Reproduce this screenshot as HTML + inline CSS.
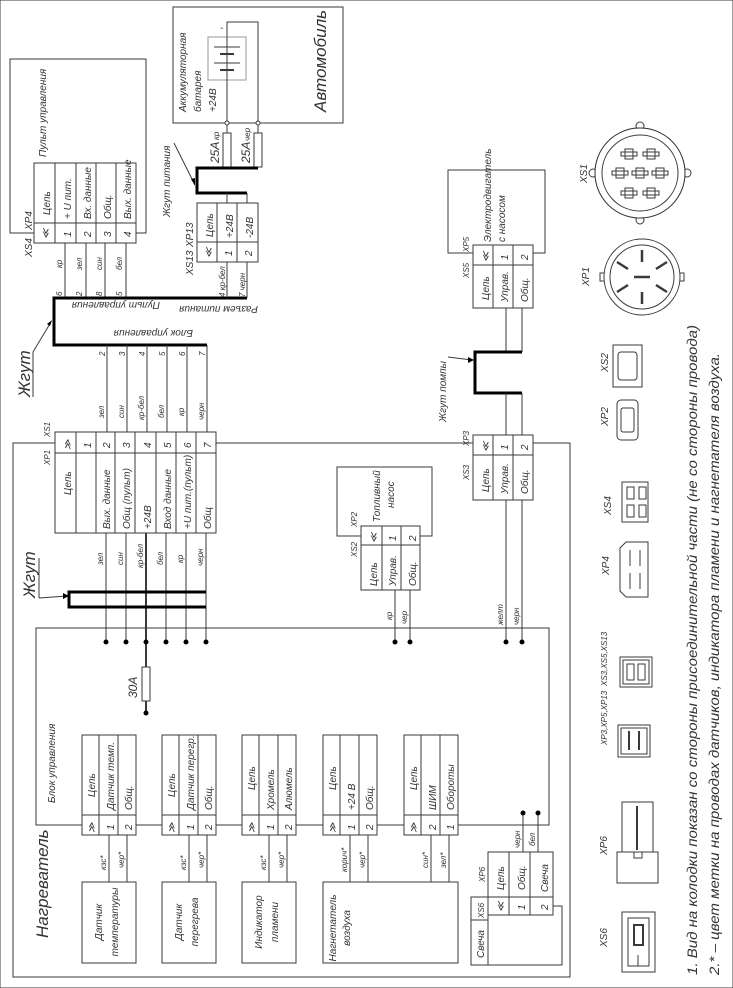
<!DOCTYPE html>
<html><head><meta charset="utf-8"><style>
html,body{margin:0;padding:0;background:#fff}
svg{display:block}
text{font-family:"Liberation Sans Narrow","Liberation Sans",sans-serif;font-style:italic;font-size:10px;fill:#333}
.s{font-size:8px}
.b{font-size:17px}
.m{font-size:12px}
line,rect,polyline,path,circle{stroke:#3a3a3a;stroke-width:1;fill:none}
.w{fill:#fff}
.k{stroke:#000;stroke-width:3}
.d{fill:#000;stroke:none}
</style></head><body>
<svg width="733" height="988" viewBox="0 0 733 988" xmlns="http://www.w3.org/2000/svg">
<rect x="0" y="0" width="733" height="988" fill="#fff" stroke="none"/>

<!-- Пульт управления -->
<polyline points="34,233 10,233 10,59 146,59 146,233 136,233"/>
<text transform="translate(46,157) rotate(-90)">Пульт управления</text>
<rect class="w" x="34" y="163" width="102" height="80"/>
<line x1="34" y1="223" x2="136" y2="223"/>
<line x1="55" y1="163" x2="55" y2="243"/><line x1="76" y1="163" x2="76" y2="243"/>
<line x1="96" y1="163" x2="96" y2="243"/><line x1="116" y1="163" x2="116" y2="243"/>
<text transform="translate(50,215) rotate(-90)">Цепь</text>
<text transform="translate(49,239) rotate(-90)">≪</text>
<text transform="translate(71,219) rotate(-90)">+ U пит.</text><text transform="translate(71,237) rotate(-90)">1</text>
<text transform="translate(91,219) rotate(-90)">Вх. данные</text><text transform="translate(91,237) rotate(-90)">2</text>
<text transform="translate(111,219) rotate(-90)">Общ.</text><text transform="translate(111,237) rotate(-90)">3</text>
<text transform="translate(131,219) rotate(-90)">Вых. данные</text><text transform="translate(131,237) rotate(-90)">4</text>
<text transform="translate(32,257) rotate(-90)">XS4</text><text transform="translate(32,230) rotate(-90)">XP4</text>
<line x1="65" y1="243" x2="65" y2="298"/><line x1="86" y1="243" x2="86" y2="298"/>
<line x1="105" y1="243" x2="105" y2="298"/><line x1="126" y1="243" x2="126" y2="298"/>
<text class="s" transform="translate(62,268) rotate(-90)">кр</text>
<text class="s" transform="translate(82,270) rotate(-90)">зел</text>
<text class="s" transform="translate(102,270) rotate(-90)">син</text>
<text class="s" transform="translate(122,270) rotate(-90)">бел</text>
<text class="s" transform="translate(62,296) rotate(-90)">6</text><text class="s" transform="translate(82,296) rotate(-90)">2</text>
<text class="s" transform="translate(102,296) rotate(-90)">8</text><text class="s" transform="translate(122,296) rotate(-90)">5</text>

<!-- main harness top -->
<polyline class="k" points="247,298 54,298 54,345 207,345"/>
<text transform="translate(160,302) rotate(180)">Пульт управления</text>
<text transform="translate(258,306) rotate(180)">Разъем питания</text>
<text transform="translate(193,330) rotate(180)">Блок управления</text>
<text class="b" transform="translate(30,397) rotate(-90)">Жгут</text>
<line x1="33" y1="397" x2="33" y2="352"/><line x1="33" y1="352" x2="51" y2="322"/>
<path class="d" d="M52,320 L47,324 L50,326 Z"/>

<!-- Автомобиль -->
<rect x="173" y="7" width="170" height="116"/>
<text class="b" transform="translate(326,112) rotate(-90)">Автомобиль</text>
<text transform="translate(186,112) rotate(-90)">Аккумуляторная</text>
<text transform="translate(201,112) rotate(-90)">батарея</text>
<text transform="translate(216,112) rotate(-90)">+24В</text>
<rect x="208" y="37" width="38" height="43" style="stroke:#999"/>
<polyline points="227,123 227,22 258,22 258,123"/>
<line x1="214" y1="47" x2="240" y2="47" /><line x1="220" y1="54" x2="234" y2="54" style="stroke-width:2"/>
<line x1="214" y1="63" x2="240" y2="63" /><line x1="220" y1="70" x2="234" y2="70" style="stroke-width:2"/>
<text transform="translate(220,31)">-</text>
<circle class="w" cx="227" cy="123" r="2"/><circle class="w" cx="258" cy="123" r="2"/>
<line x1="227" y1="125" x2="227" y2="133"/><line x1="258" y1="125" x2="258" y2="133"/>
<rect x="223" y="133" width="8" height="34"/><rect x="254" y="133" width="8" height="34"/>
<text class="m" transform="translate(219,163) rotate(-90)">25А</text>
<text class="m" transform="translate(250,163) rotate(-90)">25А</text>
<text class="s" transform="translate(219,140) rotate(-90)">кр</text>
<text class="s" transform="translate(250,141) rotate(-90)">чер</text>
<polyline class="k" points="258,168 197,168 197,193 247,193"/>
<text transform="translate(170,217) rotate(-90)">Жгут питания</text>
<line x1="174" y1="143" x2="194" y2="183"/><path class="d" d="M195,186 L191,179 L195,178 Z"/>
<line x1="227" y1="193" x2="227" y2="203"/><line x1="247" y1="193" x2="247" y2="203"/>
<rect class="w" x="197" y="203" width="61" height="59"/>
<line x1="197" y1="242" x2="258" y2="242"/><line x1="217" y1="203" x2="217" y2="262"/><line x1="237" y1="203" x2="237" y2="262"/>
<text transform="translate(213,237) rotate(-90)">Цепь</text>
<text transform="translate(233,238) rotate(-90)">+24В</text>
<text transform="translate(253,238) rotate(-90)">-24В</text>
<text transform="translate(212,258) rotate(-90)">≪</text>
<text transform="translate(232,256) rotate(-90)">1</text><text transform="translate(252,256) rotate(-90)">2</text>
<text transform="translate(193,275) rotate(-90)">XS13</text><text transform="translate(193,247) rotate(-90)">XP13</text>
<line x1="227" y1="262" x2="227" y2="298"/><line x1="247" y1="262" x2="247" y2="298"/>
<text class="s" transform="translate(225,297) rotate(-90)">4 кр-бел</text>
<text class="s" transform="translate(245,297) rotate(-90)">7 черн</text>

<!-- wires harness -> XS1 -->
<line x1="107" y1="345" x2="107" y2="432"/><line x1="127" y1="345" x2="127" y2="432"/>
<line x1="147" y1="345" x2="147" y2="432"/><line x1="167" y1="345" x2="167" y2="432"/>
<line x1="187" y1="345" x2="187" y2="432"/><line x1="207" y1="345" x2="207" y2="432"/>
<text class="s" transform="translate(105,356) rotate(-90)">2</text><text class="s" transform="translate(125,356) rotate(-90)">3</text>
<text class="s" transform="translate(145,356) rotate(-90)">4</text><text class="s" transform="translate(165,356) rotate(-90)">5</text>
<text class="s" transform="translate(185,356) rotate(-90)">6</text><text class="s" transform="translate(205,356) rotate(-90)">7</text>
<text class="s" transform="translate(104,418) rotate(-90)">зел</text><text class="s" transform="translate(124,418) rotate(-90)">син</text>
<text class="s" transform="translate(144,420) rotate(-90)">кр-бел</text><text class="s" transform="translate(164,418) rotate(-90)">бел</text>
<text class="s" transform="translate(184,416) rotate(-90)">кр</text><text class="s" transform="translate(204,420) rotate(-90)">черн</text>

<!-- heater outer box -->
<polyline points="55,443 13,443 13,977 570,977 570,443 216,443"/>
<text class="b" transform="translate(48,938) rotate(-90)">Нагреватель</text>

<!-- XS1 table -->
<rect class="w" x="55" y="432" width="161" height="101"/>
<line x1="55" y1="453" x2="216" y2="453"/>
<line x1="76" y1="432" x2="76" y2="533"/><line x1="96" y1="432" x2="96" y2="533"/><line x1="115" y1="432" x2="115" y2="533"/>
<line x1="135" y1="432" x2="135" y2="533"/><line x1="156" y1="432" x2="156" y2="533"/><line x1="176" y1="432" x2="176" y2="533"/><line x1="196" y1="432" x2="196" y2="533"/>
<text transform="translate(71,450) rotate(-90)">≫</text>
<text transform="translate(91,448) rotate(-90)">1</text><text transform="translate(110,448) rotate(-90)">2</text>
<text transform="translate(130,448) rotate(-90)">3</text><text transform="translate(151,448) rotate(-90)">4</text>
<text transform="translate(171,448) rotate(-90)">5</text><text transform="translate(191,448) rotate(-90)">6</text><text transform="translate(211,448) rotate(-90)">7</text>
<text transform="translate(71,495) rotate(-90)">Цепь</text>
<text transform="translate(110,529) rotate(-90)">Вых. данные</text>
<text transform="translate(130,529) rotate(-90)">Общ (пульт)</text>
<text transform="translate(151,529) rotate(-90)">+24В</text>
<text transform="translate(171,529) rotate(-90)">Вход данные</text>
<text transform="translate(191,529) rotate(-90)">+U пит.(пульт)</text>
<text transform="translate(211,529) rotate(-90)">Общ</text>
<text class="s" transform="translate(50,465) rotate(-90)">XP1</text><text class="s" transform="translate(50,437) rotate(-90)">XS1</text>

<!-- wires XS1 -> inner box -->
<line x1="106" y1="533" x2="106" y2="642"/><line x1="126" y1="533" x2="126" y2="642"/>
<line x1="146" y1="533" x2="146" y2="713" style="stroke-width:2"/><line x1="166" y1="533" x2="166" y2="642"/>
<line x1="186" y1="533" x2="186" y2="642"/><line x1="206" y1="533" x2="206" y2="642"/>
<text class="s" transform="translate(103,565) rotate(-90)">зел</text><text class="s" transform="translate(123,565) rotate(-90)">син</text>
<text class="s" transform="translate(143,568) rotate(-90)">кр-бел</text><text class="s" transform="translate(163,565) rotate(-90)">бел</text>
<text class="s" transform="translate(183,563) rotate(-90)">кр</text><text class="s" transform="translate(203,566) rotate(-90)">черн</text>
<polyline class="k" points="206,592 69,592 69,607 206,607"/>
<text class="b" transform="translate(35,598) rotate(-90)">Жгут</text>
<line x1="39" y1="598" x2="39" y2="558"/><line x1="39" y1="598" x2="67" y2="596"/>
<path class="d" d="M69,596 L63,593 L63,599 Z"/>

<!-- inner box -->
<rect x="36" y="628" width="513" height="197"/>
<text transform="translate(55,803) rotate(-90)">Блок управления</text>
<circle class="d" cx="106" cy="642" r="2.5"/><circle class="d" cx="126" cy="642" r="2.5"/><circle class="d" cx="146" cy="642" r="2.5"/>
<circle class="d" cx="166" cy="642" r="2.5"/><circle class="d" cx="186" cy="642" r="2.5"/><circle class="d" cx="206" cy="642" r="2.5"/>
<rect class="w" x="142" y="667" width="8" height="34"/>
<circle class="d" cx="146" cy="713" r="2.5"/>
<text class="m" transform="translate(137,698) rotate(-90)">30А</text>

<!-- sensor tables -->
<g>
<rect class="w" x="82" y="735" width="54" height="100"/><line x1="82" y1="815" x2="136" y2="815"/><line x1="99" y1="735" x2="99" y2="835"/><line x1="118" y1="735" x2="118" y2="835"/>
<rect class="w" x="162" y="735" width="54" height="100"/><line x1="162" y1="815" x2="216" y2="815"/><line x1="179" y1="735" x2="179" y2="835"/><line x1="198" y1="735" x2="198" y2="835"/>
<rect class="w" x="242" y="735" width="54" height="100"/><line x1="242" y1="815" x2="296" y2="815"/><line x1="259" y1="735" x2="259" y2="835"/><line x1="278" y1="735" x2="278" y2="835"/>
<rect class="w" x="323" y="735" width="54" height="100"/><line x1="323" y1="815" x2="377" y2="815"/><line x1="340" y1="735" x2="340" y2="835"/><line x1="359" y1="735" x2="359" y2="835"/>
<rect class="w" x="404" y="735" width="54" height="100"/><line x1="404" y1="815" x2="458" y2="815"/><line x1="421" y1="735" x2="421" y2="835"/><line x1="440" y1="735" x2="440" y2="835"/>
</g>
<text transform="translate(95,797) rotate(-90)">Цепь</text><text transform="translate(114,810) rotate(-90)">Датчик темп.</text><text transform="translate(132,810) rotate(-90)">Общ.</text>
<text transform="translate(95,833) rotate(-90)">≫</text><text transform="translate(114,830) rotate(-90)">1</text><text transform="translate(132,830) rotate(-90)">2</text>
<text transform="translate(175,797) rotate(-90)">Цепь</text><text transform="translate(194,810) rotate(-90)">Датчик перегр.</text><text transform="translate(212,810) rotate(-90)">Общ.</text>
<text transform="translate(175,833) rotate(-90)">≫</text><text transform="translate(194,830) rotate(-90)">1</text><text transform="translate(212,830) rotate(-90)">2</text>
<text transform="translate(255,790) rotate(-90)">Цепь</text><text transform="translate(274,810) rotate(-90)">Хромель</text><text transform="translate(292,810) rotate(-90)">Алюмель</text>
<text transform="translate(255,833) rotate(-90)">≫</text><text transform="translate(274,830) rotate(-90)">1</text><text transform="translate(292,830) rotate(-90)">2</text>
<text transform="translate(336,790) rotate(-90)">Цепь</text><text transform="translate(355,810) rotate(-90)">+24 В</text><text transform="translate(373,810) rotate(-90)">Общ.</text>
<text transform="translate(336,833) rotate(-90)">≫</text><text transform="translate(355,830) rotate(-90)">1</text><text transform="translate(373,830) rotate(-90)">2</text>
<text transform="translate(417,790) rotate(-90)">Цепь</text><text transform="translate(436,810) rotate(-90)">ШИМ</text><text transform="translate(454,810) rotate(-90)">Обороты</text>
<text transform="translate(417,833) rotate(-90)">≫</text><text transform="translate(436,830) rotate(-90)">2</text><text transform="translate(454,830) rotate(-90)">1</text>

<!-- sensor wires -->
<line x1="109" y1="835" x2="109" y2="882"/><line x1="127" y1="835" x2="127" y2="882"/>
<line x1="189" y1="835" x2="189" y2="882"/><line x1="207" y1="835" x2="207" y2="882"/>
<line x1="269" y1="835" x2="269" y2="882"/><line x1="287" y1="835" x2="287" y2="882"/>
<line x1="350" y1="835" x2="350" y2="882"/><line x1="368" y1="835" x2="368" y2="882"/>
<line x1="431" y1="835" x2="431" y2="882"/><line x1="449" y1="835" x2="449" y2="882"/>
<text class="s" transform="translate(106,870) rotate(-90)">кзс*</text><text class="s" transform="translate(124,868) rotate(-90)">чер*</text>
<text class="s" transform="translate(186,870) rotate(-90)">кзс*</text><text class="s" transform="translate(204,868) rotate(-90)">чер*</text>
<text class="s" transform="translate(266,870) rotate(-90)">кзс*</text><text class="s" transform="translate(284,868) rotate(-90)">чер*</text>
<text class="s" transform="translate(347,872) rotate(-90)">корич*</text><text class="s" transform="translate(365,868) rotate(-90)">чер*</text>
<text class="s" transform="translate(428,868) rotate(-90)">син*</text><text class="s" transform="translate(446,868) rotate(-90)">зел*</text>

<!-- devices -->
<rect x="82" y="882" width="54" height="81"/><rect x="162" y="882" width="54" height="81"/>
<rect x="242" y="882" width="54" height="81"/><rect x="323" y="882" width="135" height="81"/>
<text text-anchor="middle" transform="translate(102,922) rotate(-90)">Датчик</text>
<text text-anchor="middle" transform="translate(118,922) rotate(-90)">температуры</text>
<text text-anchor="middle" transform="translate(182,922) rotate(-90)">Датчик</text>
<text text-anchor="middle" transform="translate(198,922) rotate(-90)">перегрева</text>
<text text-anchor="middle" transform="translate(262,922) rotate(-90)">Индикатор</text>
<text text-anchor="middle" transform="translate(278,922) rotate(-90)">пламени</text>
<text text-anchor="middle" transform="translate(336,928) rotate(-90)">Нагнетатель</text>
<text text-anchor="middle" transform="translate(350,928) rotate(-90)">воздуха</text>

<!-- XS6 / XP6 свеча -->
<line x1="523" y1="813" x2="523" y2="852"/><line x1="538" y1="813" x2="538" y2="852"/>
<circle class="d" cx="523" cy="813" r="2.5"/><circle class="d" cx="538" cy="813" r="2.5"/>
<text class="s" transform="translate(520,848) rotate(-90)">черн</text><text class="s" transform="translate(535,846) rotate(-90)">бел</text>
<rect class="w" x="488" y="852" width="65" height="63"/>
<line x1="488" y1="897" x2="553" y2="897"/><line x1="509" y1="852" x2="509" y2="915"/><line x1="530" y1="852" x2="530" y2="915"/>
<text transform="translate(504,890) rotate(-90)">Цепь</text><text transform="translate(525,890) rotate(-90)">Общ.</text><text transform="translate(548,892) rotate(-90)">Свеча</text>
<text transform="translate(504,912) rotate(-90)">≪</text><text transform="translate(525,910) rotate(-90)">1</text><text transform="translate(548,910) rotate(-90)">2</text>
<text class="s" transform="translate(485,882) rotate(-90)">XP6</text>
<rect x="471" y="897" width="17" height="68"/>
<line x1="471" y1="920" x2="488" y2="920"/>
<text class="s" transform="translate(484,918) rotate(-90)">XS6</text>
<text transform="translate(484,958) rotate(-90)">Свеча</text>
<polyline points="553,906 562,906 562,965 488,965"/>

<!-- Fuel pump -->
<rect x="337" y="467" width="95" height="69"/>
<text transform="translate(380,522) rotate(-90)">Топливный</text>
<text transform="translate(394,508) rotate(-90)">насос</text>
<rect class="w" x="361" y="526" width="59" height="64"/>
<line x1="361" y1="545" x2="420" y2="545"/><line x1="382" y1="526" x2="382" y2="590"/><line x1="401" y1="526" x2="401" y2="590"/>
<text transform="translate(377,543) rotate(-90)">≪</text><text transform="translate(396,541) rotate(-90)">1</text><text transform="translate(416,541) rotate(-90)">2</text>
<text transform="translate(377,586) rotate(-90)">Цепь</text><text transform="translate(396,586) rotate(-90)">Управ.</text><text transform="translate(416,586) rotate(-90)">Общ.</text>
<text class="s" transform="translate(357,557) rotate(-90)">XS2</text><text class="s" transform="translate(357,527) rotate(-90)">XP2</text>
<line x1="395" y1="590" x2="395" y2="642"/><line x1="410" y1="590" x2="410" y2="642"/>
<circle class="d" cx="395" cy="642" r="2.5"/><circle class="d" cx="410" cy="642" r="2.5"/>
<text class="s" transform="translate(392,620) rotate(-90)">кр</text><text class="s" transform="translate(407,624) rotate(-90)">чер</text>

<!-- Motor / pump harness -->
<rect x="448" y="170" width="97" height="83"/>
<text transform="translate(491,242) rotate(-90)">Электродвигатель</text>
<text transform="translate(505,242) rotate(-90)">с насосом</text>
<rect class="w" x="473" y="245" width="60" height="63"/>
<line x1="473" y1="265" x2="533" y2="265"/><line x1="493" y1="245" x2="493" y2="308"/><line x1="513" y1="245" x2="513" y2="308"/>
<text transform="translate(489,262) rotate(-90)">≪</text><text transform="translate(508,260) rotate(-90)">1</text><text transform="translate(528,260) rotate(-90)">2</text>
<text transform="translate(489,300) rotate(-90)">Цепь</text><text transform="translate(508,302) rotate(-90)">Управ.</text><text transform="translate(528,302) rotate(-90)">Общ.</text>
<text class="s" transform="translate(469,278) rotate(-90)">XS5</text><text class="s" transform="translate(469,252) rotate(-90)">XP5</text>
<line x1="506" y1="308" x2="506" y2="352"/><line x1="522" y1="308" x2="522" y2="352"/>
<polyline class="k" points="522,352 475,352 475,393 522,393"/>
<line x1="506" y1="393" x2="506" y2="435"/><line x1="522" y1="393" x2="522" y2="435"/>
<text transform="translate(446,422) rotate(-90)">Жгут помпы</text>
<line x1="448" y1="357" x2="472" y2="360"/><path class="d" d="M474,360 L468,357 L468,363 Z"/>
<rect class="w" x="473" y="435" width="60" height="65"/>
<line x1="473" y1="455" x2="533" y2="455"/><line x1="493" y1="435" x2="493" y2="500"/><line x1="513" y1="435" x2="513" y2="500"/>
<text transform="translate(489,452) rotate(-90)">≪</text><text transform="translate(508,450) rotate(-90)">1</text><text transform="translate(528,450) rotate(-90)">2</text>
<text transform="translate(489,492) rotate(-90)">Цепь</text><text transform="translate(508,494) rotate(-90)">Управ.</text><text transform="translate(528,494) rotate(-90)">Общ.</text>
<text class="s" transform="translate(469,480) rotate(-90)">XS3</text><text class="s" transform="translate(469,446) rotate(-90)">XP3</text>
<line x1="506" y1="500" x2="506" y2="642"/><line x1="522" y1="500" x2="522" y2="642"/>
<circle class="d" cx="506" cy="642" r="2.5"/><circle class="d" cx="522" cy="642" r="2.5"/>
<text class="s" transform="translate(503,625) rotate(-90)">желт</text><text class="s" transform="translate(519,625) rotate(-90)">черн</text>

<!-- Right connector views -->
<circle cx="640" cy="173" r="45"/><circle cx="640" cy="173" r="38"/>
<circle cx="640" cy="126" r="4"/><circle cx="640" cy="220" r="4"/><circle cx="593" cy="173" r="4"/><circle cx="687" cy="173" r="4"/>
<circle class="w" cx="640" cy="173" r="45"/><circle cx="640" cy="173" r="38"/>
<path d="M636,168h8v10h-8z M632,171h16v4h-16z"/>
<path d="M656,168h8v10h-8z M652,171h16v4h-16z"/>
<path d="M616,168h8v10h-8z M612,171h16v4h-16z"/>
<path d="M647,149h8v10h-8z M643,152h16v4h-16z"/>
<path d="M625,149h8v10h-8z M621,152h16v4h-16z"/>
<path d="M647,188h8v10h-8z M643,191h16v4h-16z"/>
<path d="M625,188h8v10h-8z M621,191h16v4h-16z"/>
<text transform="translate(587,183) rotate(-90)">XS1</text>
<rect x="600" y="273" width="6" height="8"/><rect x="678" y="273" width="6" height="8"/>
<circle class="w" cx="642" cy="277" r="38"/><circle cx="642" cy="277" r="32"/>
<line x1="642" y1="250" x2="642" y2="262" style="stroke-width:2.5"/><line x1="642" y1="292" x2="642" y2="304" style="stroke-width:2.5"/>
<line x1="617" y1="262" x2="628" y2="269" style="stroke-width:2.5"/><line x1="656" y1="285" x2="667" y2="292" style="stroke-width:2.5"/>
<line x1="617" y1="292" x2="628" y2="285" style="stroke-width:2.5"/><line x1="656" y1="269" x2="667" y2="262" style="stroke-width:2.5"/>
<line x1="634" y1="277" x2="650" y2="277" style="stroke-width:2.5"/>
<text transform="translate(589,286) rotate(-90)">XP1</text>
<rect x="613" y="345" width="29" height="42"/><rect x="618" y="352" width="19" height="28" rx="3"/>
<text transform="translate(608,372) rotate(-90)">XS2</text>
<rect x="617" y="400" width="21" height="40" rx="4"/><rect x="621" y="408" width="13" height="24" rx="2"/>
<text transform="translate(608,426) rotate(-90)">XP2</text>
<rect x="622" y="482" width="26" height="40"/>
<path d="M627,487h7v12h-7z M639,487h7v12h-7z M627,505h7v12h-7z M639,505h7v12h-7z"/>
<text transform="translate(611,515) rotate(-90)">XS4</text>
<path d="M620,548 L626,542 L648,542 L648,597 L626,597 L620,591 Z"/>
<line x1="630" y1="550" x2="630" y2="566"/><line x1="640" y1="550" x2="640" y2="566"/>
<line x1="630" y1="573" x2="630" y2="589"/><line x1="640" y1="573" x2="640" y2="589"/>
<text transform="translate(609,575) rotate(-90)">XP4</text>
<rect x="620" y="657" width="32" height="30"/><rect x="623" y="660" width="26" height="24"/>
<path d="M627,664h7v16h-7z M638,664h7v16h-7z"/>
<text class="s" transform="translate(607,686) rotate(-90)">XS3,XS5,XS13</text>
<rect x="618" y="725" width="32" height="32"/><rect x="621" y="728" width="26" height="26"/>
<line x1="629" y1="731" x2="629" y2="750" style="stroke-width:2"/><line x1="639" y1="731" x2="639" y2="750" style="stroke-width:2"/>
<text class="s" transform="translate(607,745) rotate(-90)">XP3,XP5,XP13</text>
<rect x="617" y="852" width="41" height="31"/><rect x="622" y="802" width="31" height="50"/>
<line x1="637" y1="806" x2="637" y2="850" style="stroke-width:2"/>
<rect x="634" y="852" width="8" height="6"/>
<text transform="translate(607,855) rotate(-90)">XP6</text>
<rect x="622" y="912" width="33" height="60"/><rect x="628" y="918" width="21" height="48"/>
<rect x="634" y="925" width="9" height="20" style="stroke-width:2"/>
<line x1="638" y1="955" x2="638" y2="966"/>
<text transform="translate(607,947) rotate(-90)">XS6</text>

<!-- Notes -->
<text class="m" style="font-size:14px" textLength="650" lengthAdjust="spacingAndGlyphs" transform="translate(697,975) rotate(-90)">1. Вид на колодки показан со стороны присоединительной части (не со стороны провода)</text>
<text class="m" style="font-size:14px" textLength="622" lengthAdjust="spacingAndGlyphs" transform="translate(719,975) rotate(-90)">2.* – цвет метки на проводах датчиков, индикатора пламени и нагнетателя воздуха.</text>
</svg>
</body></html>
